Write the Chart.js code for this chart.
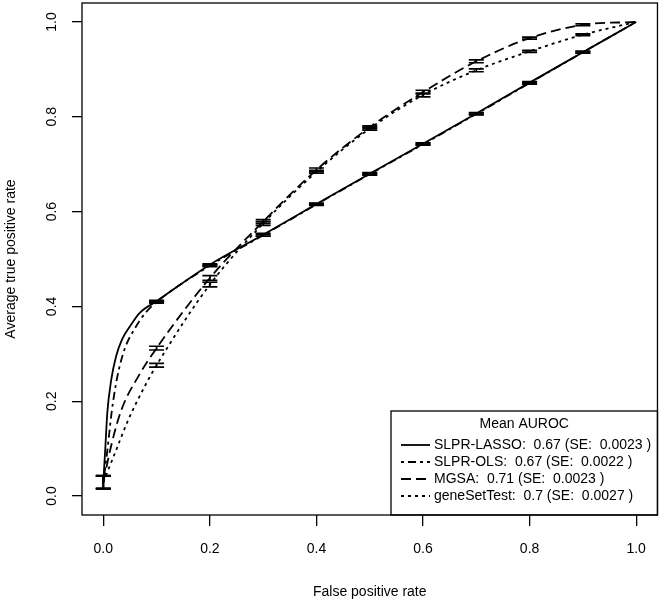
<!DOCTYPE html>
<html>
<head>
<meta charset="utf-8">
<script src="https://cdn.jsdelivr.net/npm/chart.js@4.4.1/dist/chart.umd.min.js"></script>
<style>
  html, body { margin: 0; padding: 0; background: #fff; }
  canvas { display: block; }
</style>
</head>
<body>
<canvas id="roc" width="661" height="601"></canvas>
<script>
// false positive rates where the error bars sit
const fpr = [0, 0.1, 0.2, 0.3, 0.4, 0.5, 0.6, 0.7, 0.8, 0.9, 1.0]

// mean true positive rate at each fpr
const lassoTpr = [0.029, 0.411, 0.488, 0.551, 0.616, 0.680, 0.743, 0.807, 0.872, 0.936, 1.0]
const olsTpr   = [0.029, 0.409, 0.486, 0.550, 0.615, 0.679, 0.742, 0.806, 0.871, 0.936, 1.0]
const mgsaTpr  = [0.029, 0.312, 0.460, 0.579, 0.688, 0.778, 0.852, 0.917, 0.966, 0.994, 1.0]
const gstTpr   = [0.029, 0.276, 0.446, 0.575, 0.684, 0.775, 0.846, 0.898, 0.938, 0.973, 1.0]

// half length of the error bars
const lassoErr = [0.013, 0.002, 0.002, 0.003, 0.002, 0.002, 0.002, 0.002, 0.002, 0.002, 0]
const olsErr   = [0.014, 0.002, 0.002, 0.002, 0.002, 0.002, 0.002, 0.002, 0.002, 0.002, 0]
const mgsaErr  = [0.013, 0.004, 0.005, 0.004, 0.004, 0.003, 0.004, 0.003, 0.002, 0.002, 0]
const gstErr   = [0.014, 0.004, 0.005, 0.004, 0.003, 0.003, 0.004, 0.003, 0.002, 0.002, 0]

const lassoHeadX = [0.004, 0.0075, 0.015, 0.024, 0.035, 0.05, 0.068]
const lassoHeadY = [0.106, 0.176, 0.246, 0.295, 0.330, 0.358, 0.386]
const olsHeadX   = [0.008, 0.016, 0.026, 0.04, 0.06, 0.078]
const olsHeadY   = [0.100, 0.180, 0.250, 0.310, 0.355, 0.385]
const mgsaHeadX  = [0.016, 0.034, 0.066]
const mgsaHeadY  = [0.112, 0.182, 0.253]
const gstHeadX   = [0.022, 0.047, 0.078]
const gstHeadY   = [0.091, 0.161, 0.232]

const xTicks = [0, 0.2, 0.4, 0.6, 0.8, 1.0]
const yTicks = [0, 0.2, 0.4, 0.6, 0.8, 1.0]

const legendTitle = 'Mean AUROC'
const legendLabels = [
    'SLPR-LASSO:  0.67 (SE:  0.0023 )',
    'SLPR-OLS:  0.67 (SE:  0.0022 )',
    'MGSA:  0.71 (SE:  0.0023 )',
    'geneSetTest:  0.7 (SE:  0.0027 )',
]
const dashes = [[], [3, 4, 8, 4], [10, 5], [3, 4]]

const FONT = '"Liberation Sans", Arial, Helvetica, sans-serif'
Chart.defaults.font.family = FONT
Chart.defaults.font.size = 14
Chart.defaults.color = '#000'

function curve(headX, headY, tpr) {
    let pts = [{x: fpr[0], y: tpr[0]}]
    headX.forEach(function(hx, i) { pts.push({x: hx, y: headY[i]}) })
    for (let i = 1; i < fpr.length; i++) pts.push({x: fpr[i], y: tpr[i]})
    return pts
}

const series = [
    {tpr: lassoTpr, err: lassoErr, data: curve(lassoHeadX, lassoHeadY, lassoTpr)},
    {tpr: olsTpr, err: olsErr, data: curve(olsHeadX, olsHeadY, olsTpr)},
    {tpr: mgsaTpr, err: mgsaErr, data: curve(mgsaHeadX, mgsaHeadY, mgsaTpr)},
    {tpr: gstTpr, err: gstErr, data: curve(gstHeadX, gstHeadY, gstTpr)},
]

// box, error bars, rotated y labels and the legend, R style
const rStyle = {
    id: 'rStyle',
    afterDatasetsDraw(chart) {
        const {ctx, chartArea: a, scales: {x, y}} = chart
        ctx.save()
        ctx.strokeStyle = '#000'
        ctx.fillStyle = '#000'
        ctx.setLineDash([])

        // error bars
        ctx.lineWidth = 1.7
        series.forEach(function(s) {
            fpr.forEach(function(f, i) {
                if (!s.err[i]) return
                const px = x.getPixelForValue(f)
                const lo = y.getPixelForValue(s.tpr[i] - s.err[i])
                const hi = y.getPixelForValue(s.tpr[i] + s.err[i])
                ctx.beginPath()
                ctx.moveTo(px, lo); ctx.lineTo(px, hi)
                ctx.moveTo(px - 7.5, lo); ctx.lineTo(px + 7.5, lo)
                ctx.moveTo(px - 7.5, hi); ctx.lineTo(px + 7.5, hi)
                ctx.stroke()
            })
        })

        // legend, bottom right corner of the box
        const lx = 391, ly = 411
        ctx.lineWidth = 1.3
        ctx.fillStyle = '#fff'
        ctx.fillRect(lx, ly, a.right - lx, a.bottom - ly)
        ctx.strokeRect(lx, ly, a.right - lx, a.bottom - ly)
        ctx.fillStyle = '#000'
        ctx.font = '14px ' + FONT
        ctx.textBaseline = 'middle'
        ctx.textAlign = 'center'
        ctx.fillText(legendTitle, (lx + a.right) / 2, ly + 13)
        ctx.textAlign = 'left'
        legendLabels.forEach(function(lab, i) {
            const ry = ly + 34 + i * 17
            ctx.lineWidth = 1.8
            ctx.setLineDash(dashes[i])
            ctx.beginPath()
            ctx.moveTo(lx + 10, ry); ctx.lineTo(lx + 39, ry)
            ctx.stroke()
            ctx.setLineDash([])
            ctx.fillText(lab, lx + 43, ry)
        })

        // plot box
        ctx.lineWidth = 1.3
        ctx.strokeRect(a.left, a.top, a.width, a.height)

        // y tick labels are vertical in R
        ctx.textAlign = 'center'
        ctx.textBaseline = 'middle'
        y.ticks.forEach(function(t) {
            ctx.save()
            ctx.translate(52, y.getPixelForValue(t.value))
            ctx.rotate(-Math.PI / 2)
            ctx.fillText(t.value.toFixed(1), 0, 0)
            ctx.restore()
        })
        ctx.restore()
    }
}

new Chart(document.getElementById('roc'), {
    type: 'line',
    data: {
        datasets: series.map(function(s, i) {
            return {
                label: legendLabels[i],
                data: s.data,
                borderColor: '#000',
                borderWidth: 1.8,
                borderDash: dashes[i],
                pointRadius: 0,
                fill: false,
                cubicInterpolationMode: 'monotone',
            }
        })
    },
    plugins: [rStyle],
    options: {
        responsive: false,
        animation: false,
        layout: {padding: {left: 0, right: 3, top: 3, bottom: 0}},
        plugins: {legend: {display: false}, tooltip: {enabled: false}},
        scales: {
            x: {
                type: 'linear',
                min: -0.04,
                max: 1.04,
                afterBuildTicks: function(s) { s.ticks = xTicks.map(v => ({value: v})) },
                afterFit: function(s) { s.height = 86 },
                grid: {drawOnChartArea: false, drawTicks: true, tickLength: 11, color: '#000', lineWidth: 1.3},
                border: {display: false},
                ticks: {padding: 15, maxRotation: 0, callback: v => v.toFixed(1)},
                title: {display: true, text: 'False positive rate', padding: {top: 0, bottom: 0}},
            },
            y: {
                type: 'linear',
                min: -0.04,
                max: 1.04,
                afterBuildTicks: function(s) { s.ticks = yTicks.map(v => ({value: v})) },
                afterFit: function(s) { s.width = 82 },
                grid: {drawOnChartArea: false, drawTicks: true, tickLength: 10, color: '#000', lineWidth: 1.3},
                border: {display: false},
                ticks: {display: false},
                title: {display: true, text: 'Average true positive rate', padding: {top: 3, bottom: 0}},
            }
        }
    }
});
</script>
</body>
</html>
